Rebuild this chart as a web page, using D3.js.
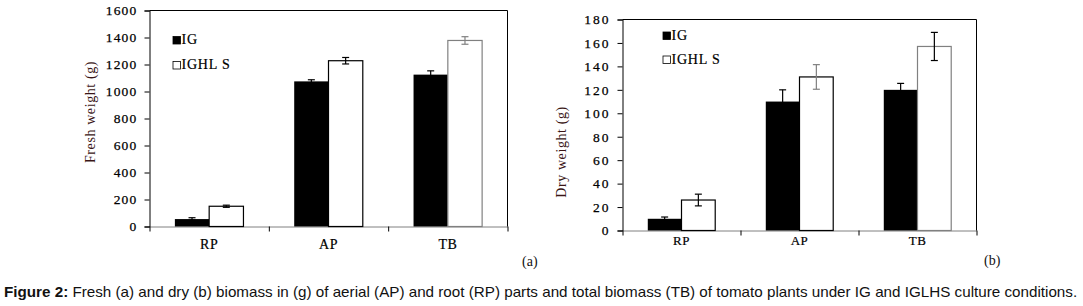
<!DOCTYPE html>
<html>
<head>
<meta charset="utf-8">
<script src="https://cdn.jsdelivr.net/npm/d3@7"></script>
<style>
  body { margin: 0; background: #fff; }
  svg { display: block; }
  text { font-family: "Liberation Serif", "Times New Roman", serif; }
</style>
</head>
<body>
<div id="chart"></div>
<script>
// values
const categories = ["RP", "AP", "TB"];
const series = ["IG", "IGHLS"];

const freshIG = [55, 1075, 1125];
const freshIGErr = [10, 12, 28];
const freshIGHLS = [150, 1228, 1378];
const freshIGHLSErr = [8, 24, 28];

const dryIG = [10, 110, 120];
const dryIGErr = [1.5, 10, 5.5];
const dryIGHLS = [26, 131, 157];
const dryIGHLSErr = [5, 10.5, 12];

const freshTicks = [0, 200, 400, 600, 800, 1000, 1200, 1400, 1600];
const dryTicks = [0, 20, 40, 60, 80, 100, 120, 140, 160, 180];

const caption = "Fresh (a) and dry (b) biomass in (g) of aerial (AP) and root (RP) parts and total biomass (TB) of tomato plants under IG and IGLHS culture conditions.";

const serif = "'Liberation Serif', 'Times New Roman', serif";

const svg = d3.select("#chart").append("svg")
    .attr("width", 1083)
    .attr("height", 306);

svg.append("rect").attr("width", 1083).attr("height", 306).attr("fill", "#fff");

const drawPanel = (p) => {
    const g = svg.append("g");

    const y = d3.scaleLinear().domain([0, p.max]).range([p.bottom, p.top]);
    const x0 = d3.scaleBand().domain(categories).range([p.left, p.right]);
    const x1 = d3.scaleBand().domain(series).range([0, x0.bandwidth()]).paddingOuter(p.groupPad);

    // y axis
    const yAxis = g.append("g")
        .attr("transform", `translate(${p.left},0)`)
        .call(d3.axisLeft(y).tickValues(p.ticks).tickSize(5).tickPadding(7).tickFormat(d3.format("d")));
    yAxis.attr("font-family", serif);
    yAxis.select(".domain").attr("stroke", "#000");
    yAxis.selectAll(".tick line").attr("stroke", "#000");
    yAxis.selectAll(".tick text")
        .attr("fill", "#000")
        .attr("stroke", "#000").attr("stroke-width", 0.25)
        .style("font-size", p.tickFont + "px")
        .style("letter-spacing", p.tickSpacing + "px");

    // x axis with ticks on the category borders
    const xb = d3.scaleLinear().domain([0, categories.length]).range([p.left, p.right]);
    const xAxis = g.append("g")
        .attr("transform", `translate(0,${p.bottom})`)
        .call(d3.axisBottom(xb).tickValues(d3.range(categories.length + 1)).tickSize(5).tickSizeOuter(0).tickFormat(""));
    xAxis.select(".domain").attr("stroke", "#808080");
    xAxis.selectAll(".tick line").attr("stroke", "#000");

    // top and right border
    g.append("path")
        .attr("d", `M${p.left},${p.top}H${p.right}V${p.bottom}`)
        .attr("fill", "none").attr("stroke", "#000");

    // category labels
    g.selectAll(".cat")
        .data(categories)
        .join("text")
        .attr("x", (d) => x0(d) + x0.bandwidth() / 2)
        .attr("y", p.catY)
        .attr("text-anchor", "middle")
        .attr("stroke", "#000").attr("stroke-width", 0.2)
        .style("font-family", serif)
        .style("font-size", p.catFont + "px")
        .style("letter-spacing", "0.5px")
        .text((d) => d);

    // bars
    const rows = categories.map((c, i) => [
        { cat: c, s: "IG", v: p.ig[i], e: p.igErr[i], stroke: "#000", err: "#000" },
        { cat: c, s: "IGHLS", v: p.hls[i], e: p.hlsErr[i], stroke: p.hlsStroke[i], err: p.hlsErrStroke[i] }
    ]).flat();

    g.selectAll(".bar")
        .data(rows)
        .join("rect")
        .attr("x", (d) => x0(d.cat) + x1(d.s))
        .attr("y", (d) => y(d.v))
        .attr("width", x1.bandwidth())
        .attr("height", (d) => p.bottom - y(d.v))
        .attr("fill", (d) => d.s == "IG" ? "#000" : "#fff")
        .attr("stroke", (d) => d.s == "IG" ? "none" : d.stroke)
        .attr("stroke-width", 1.2);

    // error bars
    const eb = g.selectAll(".err")
        .data(rows)
        .join("g")
        .attr("stroke", (d) => d.err)
        .attr("stroke-width", 1.2);
    const cx = (d) => x0(d.cat) + x1(d.s) + x1.bandwidth() / 2;
    eb.append("line")
        .attr("x1", cx).attr("x2", cx)
        .attr("y1", (d) => y(d.v + d.e)).attr("y2", (d) => y(d.v - d.e));
    eb.append("line")
        .attr("x1", (d) => cx(d) - 3.5).attr("x2", (d) => cx(d) + 3.5)
        .attr("y1", (d) => y(d.v + d.e)).attr("y2", (d) => y(d.v + d.e));
    eb.append("line")
        .attr("x1", (d) => cx(d) - 3.5).attr("x2", (d) => cx(d) + 3.5)
        .attr("y1", (d) => y(d.v - d.e)).attr("y2", (d) => y(d.v - d.e));

    // legend
    series.forEach((s, i) => {
        const ly = p.legendY + i * p.legendGap;
        g.append("rect")
            .attr("x", p.legendX).attr("y", ly - 7.5)
            .attr("width", 7.5).attr("height", 7.5)
            .attr("fill", s == "IG" ? "#000" : "#fff")
            .attr("stroke", "#000").attr("stroke-width", 0.8);
        g.append("text")
            .attr("x", p.legendX + 8.5).attr("y", ly)
            .attr("stroke", "#000").attr("stroke-width", 0.2)
            .style("font-family", serif)
            .style("font-size", "14px")
            .style("letter-spacing", "0.8px")
            .text(s == "IG" ? "IG" : "IGHL S");
    });

    // y title
    g.append("text")
        .attr("transform", `translate(${p.titleX},${p.titleY}) rotate(-90)`)
        .attr("text-anchor", "middle")
        .style("font-family", serif)
        .style("font-size", "14px")
        .style("letter-spacing", "0.6px")
        .attr("fill", "#3a1616")
        .text(p.title);

    // panel letter
    g.append("text")
        .attr("x", p.letterX).attr("y", p.letterY)
        .style("font-family", serif)
        .style("font-size", "14px")
        .attr("fill", "#111")
        .text(p.letter);
}

drawPanel({
    left: 149.5, right: 507.5, top: 10.5, bottom: 226.5,
    max: 1600, ticks: freshTicks, groupPad: 0.74,
    ig: freshIG, igErr: freshIGErr, hls: freshIGHLS, hlsErr: freshIGHLSErr,
    hlsStroke: ["#000", "#000", "#808080"], hlsErrStroke: ["#000", "#000", "#808080"],
    tickFont: 13.5, tickSpacing: 1.2, catFont: 14, catY: 249,
    legendX: 173, legendY: 44, legendGap: 25,
    title: "Fresh weight  (g)", titleX: 95, titleY: 112,
    letter: "(a)", letterX: 522, letterY: 266
});

drawPanel({
    left: 622.5, right: 976.5, top: 19.5, bottom: 230.5,
    max: 180, ticks: dryTicks, groupPad: 0.75,
    ig: dryIG, igErr: dryIGErr, hls: dryIGHLS, hlsErr: dryIGHLSErr,
    hlsStroke: ["#000", "#000", "#808080"], hlsErrStroke: ["#000", "#808080", "#000"],
    tickFont: 13.5, tickSpacing: 2, catFont: 13, catY: 245,
    legendX: 663, legendY: 39.5, legendGap: 24,
    title: "Dry weight  (g)", titleX: 565.5, titleY: 152,
    letter: "(b)", letterX: 984, letterY: 265
});

// caption
const cap = svg.append("text")
    .attr("x", 4).attr("y", 297)
    .style("font-family", "'Liberation Sans', Arial, sans-serif")
    .style("font-size", "13px")
    .attr("fill", "#111");
cap.append("tspan").style("font-weight", "bold").text("Figure 2:");
cap.append("tspan").text(" " + caption);
// fit the caption to the width of the original line
const len = cap.node().getComputedTextLength();
cap.style("font-size", (13 * 1074 / len) + "px");
</script>
</body>
</html>
